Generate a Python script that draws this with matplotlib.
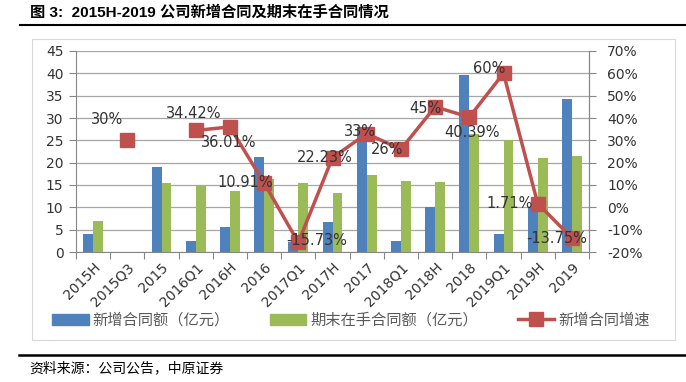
import numpy as np
import matplotlib
matplotlib.use("Agg")
import matplotlib.pyplot as plt
from matplotlib.patches import Rectangle, Patch
from matplotlib.lines import Line2D

plt.rcParams['font.family'] = ['DejaVu Sans', 'Noto Sans CJK SC']

# data
periods = ['2015H', '2015Q3', '2015', '2016Q1', '2016H', '2016', '2017Q1', '2017H',
           '2017', '2018Q1', '2018H', '2018', '2019Q1', '2019H', '2019']
new_contracts = [4.1, np.nan, 19.1, 2.4, 5.5, 21.3, 2.2, 6.7,
                 28.0, 2.5, 10.0, 39.7, 4.1, 10.0, 34.3]
backlog = [6.9, np.nan, 15.4, 15.0, 13.6, 16.4, 15.4, 13.3,
           17.3, 16.0, 15.7, 26.5, 25.1, 21.1, 21.6]
growth = [np.nan, 30, np.nan, 34.42, 36.01, 10.91, -15.73, 22.23,
          33, 26, 45, 40.39, 60, 1.71, -13.75]
growth_labels = ['', '30%', '', '34.42%', '36.01%', '10.91%', '-15.73%', '22.23%',
                 '33%', '26%', '45%', '40.39%', '60%', '1.71%', '-13.75%']
# label offsets in pixels (dx, dy), y up
label_off = [(0, 0), (-20, 21), (0, 0), (-2, 17), (-1, -16), (-19, 0), (18, 2), (-8, 0),
             (-7, 2), (-14, 0), (-10, -2), (3, -15), (-14, 5), (-28, 0), (-15, 0)]

blue = '#4F81BD'
green = '#9BBB59'
red = '#C0504D'
grid_c = '#A6A6A6'
axis_c = '#868686'
txt_c = '#333333'

W, H = 686, 382
fig = plt.figure(figsize=(W / 100, H / 100), dpi=100)

# outer chart frame
fig.patches.append(Rectangle((32 / W, 1 - 340 / H), (675 - 32) / W, (340 - 39) / H,
                             transform=fig.transFigure, fill=False,
                             edgecolor='#D9D9D9', lw=0.8))

ax = fig.add_axes([76 / W, 1 - 252 / H, (589 - 76) / W, (252 - 51) / H])
x = np.arange(len(periods))
bw = 0.29
ax.bar(x - bw / 2, new_contracts, bw, color=blue, zorder=3)
ax.bar(x + bw / 2, backlog, bw, color=green, zorder=3)

ax.set_xlim(-0.5, len(periods) - 0.5)
ax.set_ylim(0, 45)
ax.set_yticks(np.arange(0, 46, 5))
ax.grid(axis='y', color=grid_c, lw=0.9, zorder=0)
ax.set_xticks(np.arange(-0.5, len(periods), 1))
ax.set_xticklabels([])
ax.set_xticks(x, minor=True)
ax.set_xticklabels(periods, minor=True, rotation=45, ha='right', va='top',
                   rotation_mode='anchor', fontsize=10, color=txt_c)
ax.tick_params(axis='x', which='minor', length=0, pad=6)
ax.tick_params(axis='x', which='major', length=5, color=axis_c)
ax.tick_params(axis='y', length=5, color=axis_c, labelsize=10, labelcolor=txt_c, pad=4)
for s in ['top']:
    ax.spines[s].set_visible(False)
for s in ['left', 'bottom', 'right']:
    ax.spines[s].set_color(axis_c)

ax2 = ax.twinx()
ax2.set_ylim(-20, 70)
ax2.set_yticks(np.arange(-20, 71, 10))
ax2.set_yticklabels([f'{v}%' for v in range(-20, 71, 10)])
ax2.tick_params(axis='y', length=5, color=axis_c, labelsize=10, labelcolor=txt_c, pad=8)
for s in ['top', 'left', 'bottom']:
    ax2.spines[s].set_visible(False)
ax2.spines['right'].set_color(axis_c)
ax2.plot(x, growth, color=red, lw=2.5, marker='s', markersize=10, zorder=4)
for i, lab in enumerate(growth_labels):
    if lab:
        ax2.annotate(lab, (x[i], growth[i]), xytext=label_off[i], textcoords='offset pixels',
                     ha='center', va='center', fontsize=10.5, color=txt_c, zorder=5)

handles = [Patch(color=blue), Patch(color=green),
           Line2D([], [], color=red, lw=2.5, marker='s', markersize=10)]
names = ['新增合同额（亿元）', '期末在手合同额（亿元）', '新增合同增速']
fig.legend(handles, names, loc='center left', bbox_to_anchor=(52 / W, 1 - 320 / H),
           ncol=3, frameon=False, handlelength=2.4, handletextpad=0.26,
           columnspacing=2.6, borderaxespad=0, borderpad=0,
           prop={'family': 'Noto Sans CJK SC', 'size': 11}, labelcolor='#595959')

# title and rules
fig.text(30 / W, 1 - 12 / H, '图 3:  2015H-2019 公司新增合同及期末在手合同情况',
         family=['Liberation Sans', 'Noto Sans CJK SC'], fontweight='bold',
         fontsize=11, va='center', ha='left')
fig.add_artist(Line2D([20 / W, 1], [1 - 25 / H] * 2, color='black', lw=1.5,
                      transform=fig.transFigure))
fig.add_artist(Line2D([19 / W, 1], [1 - 355 / H] * 2, color='black', lw=1.8,
                      transform=fig.transFigure))
fig.text(29 / W, 1 - 368 / H, '资料来源：公司公告，中原证券', family='Noto Sans CJK SC',
         fontsize=10, va='center', ha='left')

fig.savefig('out.png', dpi=100)
